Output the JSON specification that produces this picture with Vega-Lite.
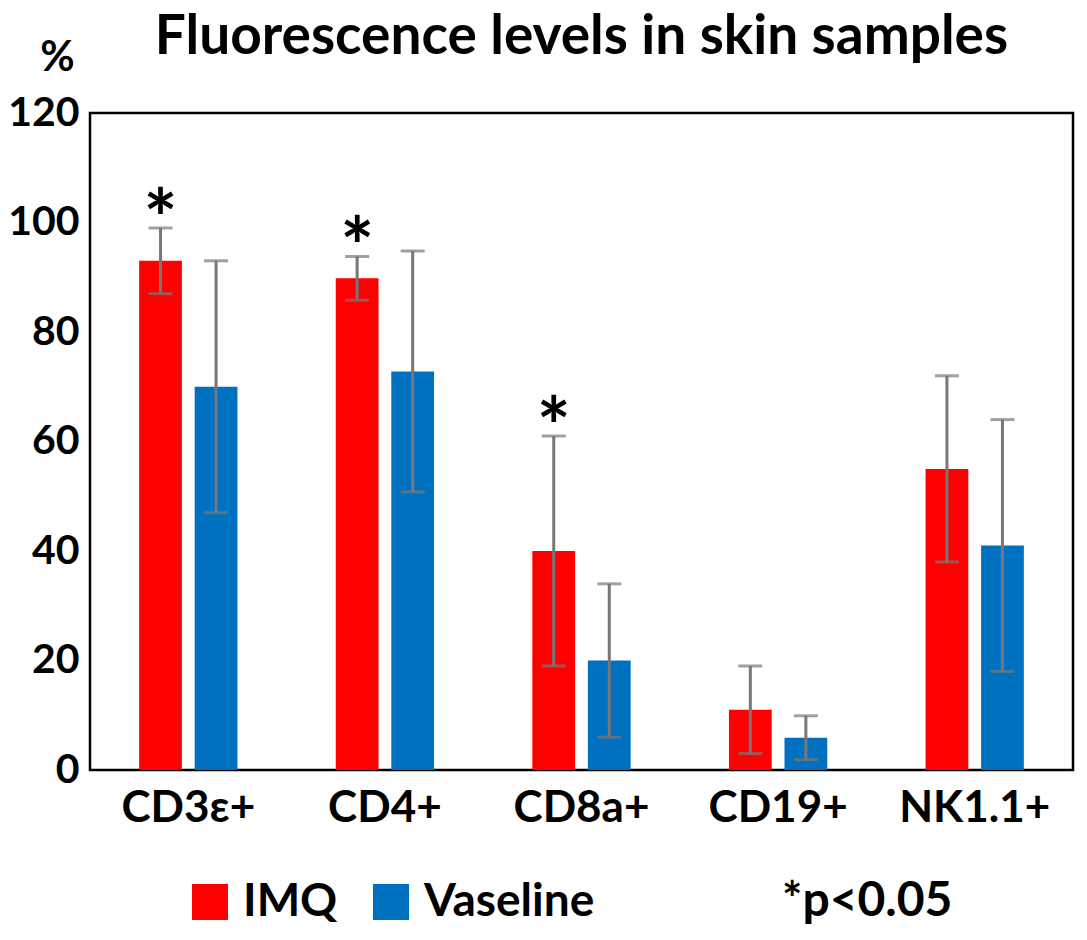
{
  "$schema": "https://vega.github.io/schema/vega-lite/v6.json",
  "description": "Fluorescence levels in skin samples, IMQ vs Vaseline",
  "autosize": {"type": "none"},
  "padding": {"left": 90, "top": 113, "right": 14, "bottom": 170},
  "width": 983,
  "height": 657,
  "title": {
    "text": "Fluorescence levels in skin samples",
    "font": "Lato",
    "fontSize": 55,
    "fontWeight": "bold",
    "color": "#000",
    "anchor": "middle",
    "baseline": "alphabetic",
    "offset": -73
  },
  "data": {
    "values": [
      {"marker": "CD3ε+", "group": "IMQ", "mean": 93, "low": 87, "high": 99, "sig": "*"},
      {"marker": "CD3ε+", "group": "Vaseline", "mean": 70, "low": 47, "high": 93, "sig": ""},
      {"marker": "CD4+", "group": "IMQ", "mean": 89.8, "low": 85.8, "high": 93.8, "sig": "*"},
      {"marker": "CD4+", "group": "Vaseline", "mean": 72.8, "low": 50.8, "high": 94.8, "sig": ""},
      {"marker": "CD8a+", "group": "IMQ", "mean": 40, "low": 19, "high": 61, "sig": "*"},
      {"marker": "CD8a+", "group": "Vaseline", "mean": 20, "low": 6, "high": 34, "sig": ""},
      {"marker": "CD19+", "group": "IMQ", "mean": 11, "low": 3, "high": 19, "sig": ""},
      {"marker": "CD19+", "group": "Vaseline", "mean": 5.9, "low": 1.9, "high": 9.9, "sig": ""},
      {"marker": "NK1.1+", "group": "IMQ", "mean": 55, "low": 38, "high": 72, "sig": ""},
      {"marker": "NK1.1+", "group": "Vaseline", "mean": 41, "low": 18, "high": 64, "sig": ""}
    ]
  },
  "encoding": {
    "x": {
      "field": "marker",
      "type": "nominal",
      "sort": null,
      "scale": {"paddingInner": 0.5, "paddingOuter": 0.25},
      "axis": {
        "title": null,
        "labelAngle": 0,
        "labelFont": "Lato",
        "labelFontSize": 44,
        "labelFontWeight": "bold",
        "labelColor": "#000",
        "labelPadding": 16,
        "ticks": false,
        "domain": false
      }
    },
    "xOffset": {
      "field": "group",
      "type": "nominal",
      "scale": {"paddingInner": 0.23, "paddingOuter": 0}
    }
  },
  "layer": [
    {
      "mark": {"type": "bar"},
      "encoding": {
        "y": {
          "field": "mean",
          "type": "quantitative",
          "scale": {"domain": [0, 120], "nice": false},
          "axis": {
            "title": "%",
            "titleAngle": 0,
            "titleFont": "Lato",
            "titleFontSize": 42,
            "titleFontWeight": "bold",
            "titleColor": "#000",
            "titleAnchor": "end",
            "titleAlign": "center",
            "titleX": -33,
            "titleY": -34,
            "values": [0, 20, 40, 60, 80, 100, 120],
            "labelFont": "Lato",
            "labelFontSize": 41,
            "labelFontWeight": "bold",
            "labelColor": "#000",
            "labelPadding": 11,
            "ticks": false,
            "domain": false,
            "grid": false
          }
        },
        "color": {
          "field": "group",
          "type": "nominal",
          "scale": {"domain": ["IMQ", "Vaseline"], "range": ["#FF0000", "#0070C0"]},
          "legend": {
            "title": "*p<0.05",
            "orient": "none",
            "legendX": 97,
            "legendY": 766,
            "direction": "horizontal",
            "titleOrient": "right",
            "titlePadding": 188,
            "titleFont": "Lato",
            "titleFontSize": 48,
            "titleFontWeight": "bold",
            "titleColor": "#000",
            "symbolType": "square",
            "symbolSize": 1296,
            "symbolStrokeWidth": 0,
            "symbolOpacity": 1,
            "labelFont": "Lato",
            "labelFontSize": 46,
            "labelFontWeight": "bold",
            "labelColor": "#000",
            "labelOffset": 10,
            "columnPadding": 30,
            "labelLimit": 300
          }
        }
      }
    },
    {
      "mark": {"type": "rule", "color": "#777777", "strokeWidth": 3},
      "encoding": {
        "y": {"field": "low", "type": "quantitative"},
        "y2": {"field": "high"}
      }
    },
    {
      "mark": {"type": "tick", "color": "#777777", "thickness": 3, "size": 24},
      "encoding": {"y": {"field": "low", "type": "quantitative"}}
    },
    {
      "mark": {"type": "tick", "color": "#777777", "thickness": 3, "size": 24},
      "encoding": {"y": {"field": "high", "type": "quantitative"}}
    },
    {
      "mark": {"type": "text", "font": "Lato", "fontSize": 80, "fontWeight": "bold", "baseline": "middle", "dy": -4, "color": "#000"},
      "encoding": {
        "y": {"field": "high", "type": "quantitative"},
        "text": {"field": "sig"}
      }
    }
  ],
  "config": {
    "view": {"stroke": "#000", "strokeWidth": 2.5}
  }
}
